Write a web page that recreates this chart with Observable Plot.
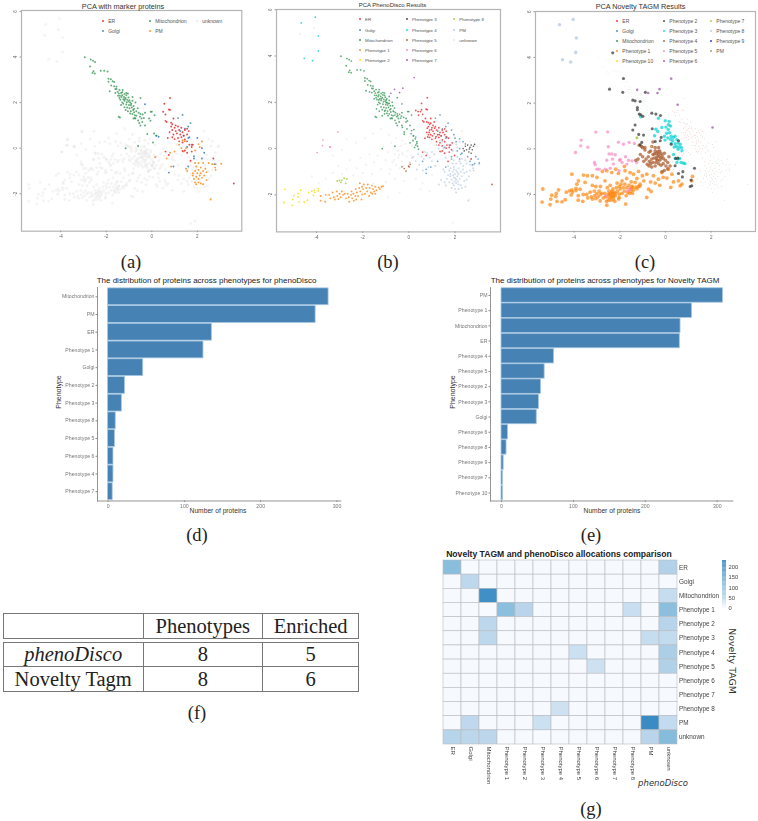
<!DOCTYPE html>
<html><head><meta charset="utf-8">
<script src="https://cdn.jsdelivr.net/npm/d3@7"></script>
<script src="https://cdn.jsdelivr.net/npm/@observablehq/plot@0.6"></script>
<style>
html,body{margin:0;background:#fff}
#page{position:relative;width:758px;height:821px;overflow:hidden;font-family:"Liberation Sans",sans-serif}
#page>svg,#page>div{position:absolute}
#page svg{background:transparent;overflow:visible}
.soft{filter:blur(.3px)}
table{position:absolute;border-collapse:collapse;font:20.5px "Liberation Serif",serif;color:#222;table-layout:fixed}
td{border:1px solid #777;text-align:center;padding:0;overflow:hidden;white-space:nowrap}
</style></head><body><div id="page"></div>
<script>
// ---------- scatter values ([PC1, PC2])
const mitoMarkers=[[-2.94,3.99],[-2.68,3.89],[-2.58,3.84],[-2.49,3.78],[-2.71,3.58],[-2.56,3.38],[-2.5,3.28],[-2.6,3.3],[-2.24,3.4],[-2.09,3.4],[-1.94,3.36],[-1.9,2.92],[-1.9,3.05],[-1.8,3.02],[-1.72,2.94],[-1.65,2.9],[-1.78,2.75],[-1.65,2.72],[-1.55,2.7],[-1.6,2.6],[-1.42,2.55],[-1.35,2.42],[-1.45,2.4],[-1.4,2.3],[-1.3,2.45],[-1.2,2.38],[-1.33,2.25],[-1.22,2.25],[-1.15,2.2],[-1.08,2.12],[-1.2,2.08],[-1.1,2.02],[-1.02,2.05],[-0.95,2.0],[-1.12,1.92],[-1.0,1.9],[-0.92,1.88],[-1.25,1.95],[-1.2,1.8],[-1.08,1.78],[-0.98,1.75],[-0.88,1.78],[-0.82,1.68],[-0.92,1.62],[-0.78,1.58],[-0.75,1.45],[-0.85,1.5],[-0.68,1.42],[-0.52,1.38],[-0.5,1.5],[-0.4,1.48],[-0.3,1.55],[-0.35,1.32],[-0.45,1.3],[-0.12,1.3],[-0.05,1.6],[0.0,1.6],[0.12,1.45],[-0.06,1.2],[-0.42,1.15],[-0.55,1.1],[-0.5,1.0],[-1.45,1.38],[-1.4,1.35],[-0.85,2.25],[-0.5,2.2],[-1.85,2.5],[-0.2,0.62],[0.1,0.65],[0.2,0.55],[0.05,0.25],[-1.15,0.0],[-0.6,0.1],[-0.8,1.3],[-0.75,1.32],[-0.3,1.0]];
const mitoDense=[[-1.55,2.6],[-1.5,2.48],[-1.6,2.42],[-1.28,2.55],[-1.12,2.42],[-1.05,2.4],[-1.38,2.12],[-1.3,2.0],[-1.42,2.2],[-1.18,2.15],[-0.85,2.08],[-0.9,1.95],[-0.8,1.85],[-0.72,2.0],[-1.35,1.9],[-1.15,1.68],[-1.05,1.62],[-0.95,1.52],[-0.78,1.72],[-0.68,1.62],[-0.62,1.75],[-0.58,1.55],[-0.72,1.3],[-0.6,1.22],[-1.12,2.32],[-1.02,2.22],[-0.98,2.1],[-1.3,2.32],[-1.25,2.15],[-1.48,2.3]];
const mitoExtra=[[-1.7,2.45],[-1.5,2.15],[-1.3,2.1],[-1.05,2.3],[-0.95,2.15],[-0.85,1.95],[-0.7,1.85],[-0.65,1.6],[-1.4,1.72],[-1.28,1.62],[-1.05,1.5],[-1.15,1.42],[-0.6,1.45],[-0.48,1.42],[-0.32,1.4],[-0.22,1.35],[-0.12,1.15],[-0.28,0.92],[-0.08,0.85],[-0.2,0.72],[0.05,1.0],[0.12,0.78],[0.22,0.82],[0.28,0.42],[0.35,0.3],[0.18,0.35],[0.3,0.15],[0.38,0.1],[0.25,0.05],[0.42,-0.02],[0.35,0.22],[-0.98,1.98],[-1.02,1.65],[-0.9,1.42]];
const erMarkers=[[0.8,2.2],[0.55,1.95],[0.75,1.7],[0.8,1.68],[0.5,1.6],[0.6,1.48],[0.95,1.3],[0.6,1.2],[0.65,1.15],[0.85,1.12],[1.05,1.0],[0.9,1.05],[0.85,0.95],[1.0,0.9],[1.15,0.95],[1.3,0.9],[1.45,0.8],[0.9,0.8],[1.05,0.75],[1.2,0.8],[1.35,0.7],[1.55,0.85],[1.62,0.75],[0.78,0.7],[0.95,0.6],[1.1,0.65],[1.25,0.6],[1.4,0.55],[1.55,0.6],[0.7,0.45],[0.9,0.48],[1.0,0.4],[1.15,0.45],[1.3,0.48],[1.45,0.38],[1.2,0.3],[1.35,0.25],[1.55,0.3],[1.65,0.15],[1.8,0.15],[1.75,0.05],[1.45,-0.1],[0.6,-0.15],[1.55,-0.2],[1.35,-0.12],[1.75,-0.15],[1.7,-0.55],[2.7,-0.45],[3.6,-1.55],[0.75,-0.3]];
const erExtra=[[0.3,1.65],[0.4,1.6],[0.42,1.45],[0.55,1.68],[0.72,1.3],[0.78,1.15],[0.95,1.1],[1.1,1.15],[0.8,0.88],[0.88,0.7],[0.98,0.82],[1.12,0.88],[0.85,0.6],[1.02,0.55],[1.18,0.52],[0.82,0.5],[1.32,0.6],[1.48,0.7],[1.62,0.52],[1.72,0.45],[1.3,0.15],[1.45,0.12],[1.62,0.02],[1.88,0.25],[1.85,-0.05],[1.98,-0.3]];
const golgiMarkers=[[-0.3,1.93],[1.15,1.32],[1.35,1.46],[1.7,1.1],[1.6,0.95],[1.45,0.85],[1.4,0.55],[1.6,0.45],[1.65,0.48],[1.25,0.75],[2.0,0.45],[2.2,0.0],[1.55,0.05],[1.75,0.15],[1.85,-0.45],[2.75,-0.7],[2.3,-0.2],[2.2,-0.45],[0.95,-0.8],[0.75,-1.07],[0.2,0.55],[0.3,0.5],[1.6,-0.8],[1.85,-0.35]];
const golgiExtra=[[1.85,0.8],[1.95,0.6],[2.05,0.3],[2.2,0.42],[2.35,0.3],[2.45,0.2],[2.1,-0.1],[2.25,-0.25],[2.55,-0.35],[2.65,-0.55],[2.9,-0.35],[3.0,-0.45],[3.05,-0.62],[2.85,-0.65],[0.75,-0.9],[1.25,-0.55],[0.6,-0.55]];
const pmMarkers=[[2.2,0.3],[2.05,0.18],[2.1,0.05],[1.9,-0.1],[1.35,0.35],[1.45,0.3],[1.2,0.15],[1.3,0.0],[1.5,-0.0],[1.0,-0.15],[0.8,-0.2],[0.15,-0.4],[0.65,-0.45],[1.4,-0.15],[0.85,-0.8],[1.5,-0.9],[1.55,-1.0],[1.9,-0.65],[2.05,-0.65],[2.25,-0.65],[2.5,-0.65],[2.65,-0.7],[2.8,-0.7],[3.05,-0.68],[1.95,-0.8],[2.15,-0.85],[2.35,-0.9],[2.78,-0.85],[2.8,-0.95],[1.9,-1.0],[2.05,-0.95],[2.25,-1.0],[1.8,-1.1],[2.0,-1.1],[2.15,-1.1],[2.4,-1.05],[1.8,-1.2],[1.95,-1.25],[2.1,-1.2],[1.85,-1.35],[2.05,-1.35],[2.2,-1.3],[2.3,-1.2],[1.9,-1.5],[2.05,-1.5],[2.15,-1.55],[2.25,-1.58],[2.4,-1.4],[1.95,-1.58],[2.58,-2.25]];
const pmExtra=[[0.05,-0.6],[0.2,-0.35],[0.3,-0.55],[0.4,-0.25],[0.45,-0.7],[0.55,-0.35],[0.7,-0.15],[0.9,-0.4],[1.0,-0.55],[1.1,-0.25],[1.15,-0.75],[0.35,-0.9],[0.6,-0.95],[1.6,-0.4],[1.7,-0.75],[1.75,-0.95],[1.65,-1.3],[1.55,-1.45],[1.4,-1.35],[1.3,-1.55],[1.6,-1.6],[1.75,-1.45],[1.85,-1.7],[2.0,-1.75],[2.15,-1.75],[2.05,-1.9],[2.3,-1.7],[2.45,-1.65],[2.5,-1.0],[2.6,-1.2],[2.3,-0.45],[2.45,-0.5],[2.2,-0.55],[1.95,-0.5],[2.1,-0.35],[2.35,-0.75],[1.95,-0.9],[2.1,-1.02],[1.92,-1.15],[2.02,-1.28],[2.12,-1.42],[1.98,-1.42],[1.8,-0.85],[1.7,-1.15],[2.65,-0.95],[2.5,-1.35]];
const phen1Disco=[[-3.82,-2.05],[-3.82,-2.25],[-3.62,-2.3],[-3.6,-2.0],[-3.45,-2.0],[-3.4,-2.15],[-3.3,-1.9],[-3.25,-2.1],[-3.2,-2.2],[-3.12,-1.85],[-3.1,-2.05],[-3.05,-2.18],[-3.0,-1.95],[-2.95,-2.1],[-2.9,-1.85],[-2.85,-2.0],[-2.78,-1.95],[-2.72,-2.15],[-2.6,-2.1],[-2.58,-2.3],[-2.5,-2.0],[-2.48,-1.85],[-2.45,-2.15],[-2.4,-1.95],[-2.38,-2.25],[-2.32,-2.05],[-2.3,-1.75],[-2.28,-2.2],[-2.25,-1.9],[-2.2,-2.05],[-2.15,-1.7],[-2.12,-1.5],[-2.1,-1.85],[-2.05,-2.2],[-2.02,-1.98],[-1.98,-1.75],[-1.95,-1.55],[-1.9,-1.95],[-1.85,-1.7],[-1.8,-1.85],[-1.78,-1.55],[-1.72,-2.05],[-1.7,-1.7],[-1.65,-1.9],[-1.6,-1.6],[-1.55,-1.75],[-1.5,-1.85],[-1.45,-1.65],[-1.4,-1.8],[-1.3,-1.68],[-1.25,-1.75],[-1.18,-1.65],[-1.12,-1.63],[-2.65,-1.95],[-2.02,-1.65],[-1.58,-1.95],[-1.45,-1.95]];
const phen2Disco=[[-5.37,-1.76],[-5.4,-2.33],[-5.05,-2.45],[-4.98,-2.03],[-5.02,-2.2],[-4.78,-1.95],[-4.68,-1.8],[-4.75,-2.3],[-4.53,-2.32],[-4.39,-2.23],[-4.34,-1.9],[-4.2,-1.84],[-4.1,-1.8],[-4.07,-1.89],[-3.92,-1.73],[-3.92,-1.83],[-4.13,-2.02],[-4.8,-2.09]];
const phen3Disco=[[2.35,0.0],[2.45,0.1],[2.5,-0.05],[2.6,-0.15],[2.65,0.05],[2.7,0.15],[2.75,-0.05],[2.8,0.1],[2.55,0.15],[2.4,-0.1],[2.7,-0.2],[2.85,0.18],[2.62,-0.02]];
const phen4Disco=[[-4.05,5.68],[-4.66,5.43],[-3.92,4.86],[-3.92,4.22],[-4.53,3.9],[-4.17,3.8]];
const phen5Disco=[[-0.3,-0.79],[-0.2,-0.86],[-0.12,-0.97],[-0.01,-0.76],[0.06,-0.68],[0.01,-0.79]];
const phen6Disco=[[-3.07,0.72],[-3.72,0.37],[-3.74,0.13],[-3.42,0.07],[-3.4,0.06],[-3.97,-0.17]];
const phen7Disco=[[0.23,3.07],[-0.26,2.61],[-0.62,2.56],[-0.4,2.42],[-0.78,2.39]];
const phen8Disco=[[-3.1,-1.4],[-3.0,-1.38],[-2.94,-1.46],[-2.8,-1.28],[-2.68,-1.31],[-2.73,-1.5],[-2.9,-1.37]];
const unknownDisco=[[-4.2,-1.2],[-3.9,-1.5],[-3.6,-1.3],[-3.3,-1.05],[-3.05,-0.75],[-2.9,-1.1],[-2.7,-0.9],[-2.55,-0.5],[-2.4,-1.15],[-2.25,-0.85],[-2.1,-0.4],[-2.0,-1.05],[-1.85,-0.7],[-1.7,-0.25],[-1.6,-1.1],[-1.5,-0.6],[-1.35,-0.3],[-1.2,-0.9],[-1.1,0.1],[-1.0,-0.5],[-0.9,-0.15],[-0.85,-1.1],[-0.75,0.25],[-0.7,-0.6],[-0.6,-0.25],[-0.5,-0.1],[-0.45,-0.4],[-0.35,0.1],[-0.3,-0.55],[-0.25,-0.25],[-0.15,0.2],[-0.1,-0.35],[-0.05,-0.1],[0.1,-0.3],[0.15,0.15],[-2.7,0.4],[-2.3,0.25],[-1.9,0.45],[-1.55,0.65],[-1.2,0.85],[-0.85,0.6],[-0.55,0.45],[-0.3,0.35],[-3.3,-0.3],[-2.9,-0.05],[-1.55,-1.5],[-1.0,-1.45],[-0.6,-1.3],[-0.2,-1.4],[0.3,-1.3],[0.6,-1.5],[1.0,-1.15],[-0.9,-2.1],[-0.4,-1.9],[0.5,-1.75],[0.9,-1.85],[2.6,-2.2],[1.3,0.75],[1.1,0.15],[2.3,0.75],[2.65,0.3],[2.95,0.1],[1.9,-3.2],[-4.7,4.95],[-4.1,5.2],[-0.8,-0.9],[-0.55,-0.7],[-0.4,-0.85],[-0.65,-0.5],[-0.25,-0.75],[-0.42,-0.28],[-0.3,-0.18]];
const unknownMore=[[2.6,0.1],[2.8,-0.2],[2.4,-0.3],[2.9,0.05],[2.7,-0.5],[2.2,0.3],[2.5,0.4],[1.7,-0.6],[1.3,-0.3],[0.9,-0.5],[0.5,0.0],[0.4,-0.8],[-0.1,0.4],[0.2,-1.6],[1.4,-1.9],[-3.1,0.2],[-2.5,-0.2],[-1.8,-0.5],[-1.5,0.1],[-1.0,0.4],[-0.7,0.0],[-0.2,-0.05],[-4.9,-1.5],[-5.4,-1.6],[-4.5,-1.6],[-3.7,-1.05],[1.7,-3.3]];
// Novelty TAGM groups (on top of the shared phenoDisco points)
const phen1Extra=[[-4.1,-1.11],[-3.81,-1.4],[-3.59,-1.15],[-3.42,-1.18],[-3.2,-1.18],[-3.88,-1.55],[-3.74,-1.77],[-3.52,-1.47],[-3.0,-1.25],[-2.76,-0.99],[-2.57,-0.96],[-2.35,-1.04],[-2.18,-0.89],[-2.06,-1.08],[-1.8,-0.77],[-1.77,-0.96],[-1.55,-1.04],[-1.4,-1.11],[-1.18,-0.99],[-1.01,-1.18],[-0.82,-1.11],[-0.53,-1.18],[-0.31,-1.33],[-0.16,-1.04],[0.13,-0.89],[0.28,-1.11],[0.57,-1.4],[0.64,-1.62],[0.72,-1.55],[0.06,-1.28],[0.23,-1.69],[1.18,-1.21],[1.15,-1.4],[-0.82,-2.13],[-0.63,-1.87],[-0.74,-1.77],[-1.11,-1.55],[-1.47,-1.69],[-1.33,-1.47],[-1.74,-2.42],[-2.03,-2.13],[-2.57,-2.47],[-2.86,-2.28],[-2.55,-1.7],[-2.42,-1.6],[-2.35,-1.85],[-2.45,-2.0],[-2.3,-1.95],[-2.38,-2.1],[-2.28,-2.1],[-2.18,-1.95],[-2.5,-2.25],[-2.22,-2.3],[-1.9,-1.4],[-1.7,-1.3],[-1.5,-1.45],[-1.25,-1.3],[-0.95,-1.4],[-0.65,-1.45],[-0.45,-1.5],[-0.25,-1.6],[-0.1,-1.25],[0.35,-1.45],[-2.65,-1.4],[-3.2,-1.6],[-3.05,-1.65],[-2.85,-1.65]];
const phen2Novelty=[[-2.31,4.2],[-1.84,3.08],[-2.45,2.61],[-1.87,2.47],[-0.88,2.47],[-1.43,2.13],[-1.33,2.1],[-1.11,2.07],[-1.23,1.81],[-1.23,1.71],[-1.15,1.52],[-0.99,1.42],[-1.08,1.49],[-0.6,1.56],[-0.42,1.52],[-0.22,1.46],[-1.33,1.04],[-1.43,0.82],[-1.17,0.63],[-0.96,0.6],[-0.58,0.88],[-0.45,0.32],[-0.23,0.35],[-1.04,0.28],[-1.11,0.18],[-0.19,0.5],[0.25,0.2],[0.57,0.35],[0.45,-0.42],[0.42,-0.74],[0.54,-0.41],[0.76,-1.0],[0.57,-1.08],[0.74,-1.23],[1.12,-1.37],[1.15,-1.62],[1.08,-1.65],[1.27,-0.85]];
const phen3Novelty=[[-1.09,1.4],[-0.31,1.34],[-0.01,1.23],[0.16,1.2],[0.13,1.05],[0.02,0.95],[-0.16,0.93],[-0.42,0.86],[-0.34,0.76],[-0.48,0.57],[0.22,1.0],[0.12,0.85],[0.18,0.7],[0.05,0.68],[-0.05,0.55],[0.25,0.55],[0.1,0.48],[0.22,0.42],[0.35,0.5],[0.42,0.55],[0.5,0.4],[0.32,0.35],[0.25,0.25],[0.42,0.22],[0.55,0.25],[0.65,0.2],[0.48,0.1],[0.6,0.08],[0.7,0.05],[0.55,-0.02],[0.38,0.08],[0.72,-0.08],[0.42,-0.42],[0.55,-0.45],[0.62,-0.42],[0.68,-0.6],[0.78,-0.62],[0.85,-0.65],[0.5,-0.6],[0.35,-0.25],[-0.02,0.38]];
const phen4Novelty=[[-1.15,0.15],[-1.05,0.1],[-1.0,0.05],[-0.9,0.05],[-0.9,-0.05],[-1.1,-0.25],[-1.0,-0.35],[-1.2,-0.45],[-1.3,-0.5],[-0.85,-0.45],[-0.75,-0.35],[-0.72,-0.15],[-0.6,0.1],[-0.65,-0.1],[-0.55,-0.25],[-0.45,0.05],[-0.45,-0.1],[-0.38,-0.2],[-0.3,0.05],[-0.25,-0.1],[-0.2,-0.2],[-0.38,-0.35],[-0.28,-0.35],[-0.15,-0.3],[-0.05,-0.2],[-0.1,-0.42],[0,-0.5],[0.1,-0.6],[-0.25,-0.5],[-0.35,-0.5],[-0.5,-0.4],[-0.6,-0.45],[-0.7,-0.55],[-0.65,-0.65],[-0.55,-0.6],[-0.42,-0.6],[-0.3,-0.65],[-0.2,-0.72],[-0.1,-0.65],[0.02,-0.75],[0.1,-0.88],[-0.05,-0.95],[-0.15,-1.0],[-0.45,-0.75],[-0.6,-0.8],[-0.72,-0.75],[-0.8,-0.68],[-0.95,-0.55],[0.15,-0.35],[0.2,-0.75],[-0.55,0.3],[-0.3,-0.25],[-0.4,-0.45],[-0.2,-0.4],[-0.48,-0.22],[-0.33,-0.12]];
const phen5Novelty=[[-3.69,0.38],[-3.71,0.13],[-3.4,0.07],[-3.05,0.73],[-3.94,-0.16],[-2.53,0.74],[-2.06,0.29],[-1.84,0.2],[-2.5,0.09],[-2.47,-0.23],[-2.35,-0.23],[-2.2,-0.26],[-1.98,-0.47],[-2.01,-0.5],[-3.11,-0.6],[-3.08,-0.7],[-3.0,-0.89],[-2.9,-0.89],[-2.64,-0.89],[-2.28,-0.67],[-2.57,-0.5],[-2.32,-0.45],[-1.59,0.28],[-1.36,0.23],[-1.47,-0.53],[-1.62,-0.5],[-1.69,-0.67],[-1.26,-0.6],[-2.03,-0.96],[-1.55,-1.77],[-1.65,-1.84],[-2.64,-2.06],[-1.75,-0.35],[-1.9,-0.6],[-2.42,-0.85]];
const phen6Novelty=[[0.25,3.07],[-1.24,2.58],[-0.76,2.44],[-0.35,2.44],[-0.26,2.61],[0.53,1.93],[2.06,0.93]];
const phen7Novelty=[[-1.25,0.48]];
const phen8Novelty=[[-4.04,5.66],[-4.64,5.43],[-3.9,4.85],[-3.93,4.22],[-4.51,3.9],[-4.15,3.8]];
const phen10Novelty=[[-0.62,0.1]];
// ---------- bar values
const discoNames=["Mitochondrion","PM","ER","Phenotype 1","Golgi","Phenotype 2","Phenotype 3","Phenotype 8","Phenotype 5","Phenotype 6","Phenotype 4","Phenotype 7"];
const discoCounts=[289,272,136,125,46,22,18,10,9,7,7,6];
const tagmNames=["PM","Phenotype 1","Mitochondrion","ER","Phenotype 4","Phenotype 5","Phenotype 2","Phenotype 3","Golgi","Phenotype 6","Phenotype 8","Phenotype 9","Phenotype 7","Phenotype 10"];
const tagmCounts=[308,265,249,248,73,60,55,52,49,9,7,3,2,2];
// ---------- heatmap values
const heatCols=["ER","Golgi","Mitochondrion","Phenotype 1","Phenotype 2","Phenotype 3","Phenotype 4","Phenotype 5","Phenotype 6","Phenotype 7","Phenotype 8","PM","unknown"];
const heatRows=["ER","Golgi","Mitochondrion","Phenotype 1","Phenotype 2","Phenotype 3","Phenotype 4","Phenotype 5","Phenotype 6","Phenotype 7","Phenotype 8","PM","unknown"];
const heatValues=[
[125,0,1,1,1,1,1,1,1,1,1,1,65],
[1,50,1,1,1,1,1,1,1,1,1,1,1],
[1,1,225,1,1,1,1,1,1,1,1,1,42],
[1,1,0,120,55,1,1,1,1,1,40,1,120],
[1,1,50,1,1,1,1,1,1,1,1,1,58],
[1,1,50,1,1,1,1,1,1,1,1,42,45],
[1,1,1,1,1,1,1,38,1,1,1,1,75],
[1,1,1,1,1,1,1,1,36,1,1,1,68],
[1,1,1,1,1,1,1,1,1,1,1,1,1],
[1,1,1,1,1,1,1,1,1,1,1,1,1],
[1,1,1,1,1,1,36,1,1,1,1,1,1],
[1,48,1,1,1,38,1,1,1,1,1,233,45],
[60,52,52,1,1,0,1,1,1,1,1,55,130]];
const heatTicks=[0,50,100,150,200];
// ---------- table and colours
const tableHead=["","Phenotypes","Enriched"];
const tableBody=[["phenoDisco","8","5"],["Novelty Tagm","8","6"]];
const colours={ER:"#e41a1c",Golgi:"#377eb8",Mitochondrion:"#238b45","Phenotype 1":"#ff7f00","Phenotype 2":"#ffd700","Phenotype 3":"#333333","Phenotype 4":"#00ced1","Phenotype 5":"#a65628","Phenotype 6":"#f781bf","Phenotype 7":"#984ea3","Phenotype 8":"#9acd32",PM:"#b0c4de",unknown:"#e4e4e4"};
const coloursTagm={ER:"#e41a1c",Golgi:"#377eb8",Mitochondrion:"#238b45","Phenotype 1":"#ff7f00","Phenotype 10":"#ffd700","Phenotype 2":"#333333","Phenotype 3":"#00ced1","Phenotype 4":"#a65628","Phenotype 5":"#f781bf","Phenotype 6":"#984ea3","Phenotype 7":"#9acd32","Phenotype 8":"#b0c4de","Phenotype 9":"#2222aa",PM:"#8b8b73"};

const page=document.getElementById("page");
function put(el,left,top,cls){el.style.left=left+"px";el.style.top=top+"px";if(cls)el.classList.add(cls);page.appendChild(el);return el}
function txt(s,x,y,o={}){const d=document.createElement("div");d.textContent=s;
 const ax={start:"0",middle:"-50%",end:"-100%"}[o.anchor||"middle"];
 d.style.cssText=`white-space:nowrap;line-height:1;font:${o.style||""} ${o.weight||""} ${o.size||7}px ${o.font||'"Liberation Sans"'};color:${o.color||"#222"};transform:translate(${ax},-50%) rotate(${o.rotate||0}deg)`;
 return put(d,x,y)}
function scatter(f,xd,yd,layers,legend,leg){
 const ml=20,mt=8,mr=2,mb=18;
 const marks=[Plot.frame({stroke:"#b4b4b4",strokeWidth:1.2}),
  Plot.axisX({ticks:[-4,-2,0,2],tickFormat:d=>String(d),tickSize:1.5,tickPadding:2.5,fontSize:4.6,color:"#666",stroke:"#999"}),
  Plot.axisY({ticks:[-2,0,2,4,6],tickFormat:d=>String(d),tickSize:1.5,tickPadding:3,tickRotate:-90,fontSize:4.6,color:"#666",stroke:"#999"})];
 for(const l of layers)marks.push(Plot.dot(l.pts,{x:d=>d[0],y:d=>d[1],r:l.r,fill:l.c,fillOpacity:l.o,stroke:"none"}));
 const svg=Plot.plot({width:f[1]-f[0]+ml+mr,height:f[3]-f[2]+mt+mb,marginLeft:ml,marginRight:mr,marginTop:mt,marginBottom:mb,
  x:{domain:xd,label:null},y:{domain:yd,label:null},marks,style:{fontFamily:'"Liberation Sans"',background:"transparent"}});
 put(svg,f[0]-ml,f[2]-mt,"soft");
 legend.forEach((col,i)=>col.forEach((name,j)=>{
  const dot=document.createElement("div");
  dot.style.cssText=`width:2.2px;height:2.2px;border-radius:50%;background:${leg.colours[name]};opacity:.85`;
  put(dot,leg.x[i]-1.1,leg.y[j]-1.1);
  txt(name,leg.x[i]+leg.dx,leg.y[j],{anchor:"start",size:leg.size,color:"#555"});
 }));
}
const mitoA=mitoMarkers.concat(mitoDense);
const pm2=pmMarkers.concat(pmExtra),er2=erMarkers.concat(erExtra),mito2=mitoA.concat(mitoExtra),golgi2=golgiMarkers.concat(golgiExtra);
// (a)
const greyA=[].concat(phen1Disco,phen2Disco,phen4Disco,phen6Disco,phen8Disco,phen5Disco,unknownDisco,unknownMore,pmExtra,phen1Extra,phen5Novelty,phen4Novelty);
scatter([20.7,241,10,230.7],[-5.72,3.95],[-3.64,6.04],[
 {pts:greyA,c:"#dcdcdc",r:1.45,o:.3},
 {pts:golgiMarkers,c:colours.Golgi,r:.95,o:.85},{pts:mitoA,c:colours.Mitochondrion,r:1,o:.7},{pts:pmMarkers,c:colours["Phenotype 1"],r:.95,o:.8},{pts:erMarkers,c:colours.ER,r:.95,o:.8}],
 [["ER","Golgi"],["Mitochondrion","PM"],["unknown"]],
 {colours:{ER:colours.ER,Golgi:colours.Golgi,Mitochondrion:colours.Mitochondrion,PM:colours["Phenotype 1"],unknown:"#e4e4e4"},x:[102.7,149.7,196.7],y:[20.7,30.7],dx:5.5,size:5});
// (b)
scatter([276.3,500.3,9.3,231.7],[-5.73,3.97],[-3.6,6.01],[
 {pts:unknownDisco,c:"#dcdcdc",r:1.1,o:.4},{pts:pm2,c:colours.PM,r:1,o:.6},{pts:golgi2,c:colours.Golgi,r:.85,o:.7},{pts:mito2,c:colours.Mitochondrion,r:.9,o:.7},{pts:er2,c:colours.ER,r:.9,o:.75},
 {pts:phen1Disco,c:colours["Phenotype 1"],r:.95,o:.75},{pts:phen2Disco,c:colours["Phenotype 2"],r:.9,o:.8},{pts:phen3Disco,c:colours["Phenotype 3"],r:.8,o:.8},{pts:phen4Disco,c:colours["Phenotype 4"],r:.85,o:.8},{pts:phen5Disco,c:colours["Phenotype 5"],r:.85,o:.8},{pts:phen6Disco,c:colours["Phenotype 6"],r:.85,o:.8},{pts:phen7Disco,c:colours["Phenotype 7"],r:.85,o:.8},{pts:phen8Disco,c:colours["Phenotype 8"],r:.9,o:.8}],
 [["ER","Golgi","Mitochondrion","Phenotype 1","Phenotype 2"],["Phenotype 3","Phenotype 4","Phenotype 5","Phenotype 6","Phenotype 7"],["Phenotype 8","PM","unknown"]],
 {colours,x:[359.7,406.7,454],y:[19.3,29.7,39.7,50,60.3],dx:5.3,size:4.4});
// (c)
scatter([535.3,755.3,10.7,230.7],[-5.69,3.94],[-3.62,6.01],[
 {pts:er2,c:coloursTagm.ER,r:.35,o:.55},{pts:pm2,c:coloursTagm.PM,r:.4,o:.6},{pts:mitoA,c:coloursTagm.Mitochondrion,r:.3,o:.35},
 {pts:phen1Disco.concat(phen2Disco,phen1Extra),c:coloursTagm["Phenotype 1"],r:1.9,o:.65},
 {pts:phen5Novelty,c:coloursTagm["Phenotype 5"],r:1.7,o:.65},{pts:phen4Novelty,c:coloursTagm["Phenotype 4"],r:1.8,o:.7},{pts:phen3Novelty,c:coloursTagm["Phenotype 3"],r:1.7,o:.7},{pts:phen2Novelty,c:coloursTagm["Phenotype 2"],r:1.55,o:.7},
 {pts:phen6Novelty,c:coloursTagm["Phenotype 6"],r:1.3,o:.7},{pts:phen7Novelty,c:coloursTagm["Phenotype 7"],r:1.5,o:.8},{pts:phen8Novelty,c:coloursTagm["Phenotype 8"],r:1.8,o:.7},{pts:phen10Novelty,c:coloursTagm["Phenotype 10"],r:.8,o:.7}],
 [["ER","Golgi","Mitochondrion","Phenotype 1","Phenotype 10"],["Phenotype 2","Phenotype 3","Phenotype 4","Phenotype 5","Phenotype 6"],["Phenotype 7","Phenotype 8","Phenotype 9","PM"]],
 {colours:coloursTagm,x:[617,664,711],y:[20.7,30.7,41,51,61.3],dx:5.3,size:5});
txt("PCA with marker proteins",123,6,{size:7.3,color:"#333"});
txt("PCA PhenoDisco Results",392.5,4.7,{size:6,color:"#333"});
txt("PCA Novelty TAGM Results",640.5,5.5,{size:7.3,color:"#333"});
// bars
function bars(names,counts,left,right,xd,top,bottom,fs){
 const data=names.map((n,i)=>({n,v:counts[i]}));
 const ml=55,mb=12,mt=2;
 const svg=Plot.plot({width:right-left+ml+6,height:bottom-top+mt+mb,marginLeft:ml,marginRight:6,marginTop:mt,marginBottom:mb,
  x:{domain:xd,label:null},y:{domain:names,label:null,padding:.05,round:false},
  style:{fontFamily:'"Liberation Sans"',background:"transparent"},
  marks:[Plot.barX(data,{x:"v",y:"n",fill:"#4682b4",stroke:"#a6c6e2",strokeWidth:.8}),
   Plot.frame({anchor:"left",stroke:"#888",strokeWidth:.9}),Plot.frame({anchor:"bottom",stroke:"#888",strokeWidth:.9}),
   Plot.axisX({ticks:[0,100,200,300],tickSize:1.5,tickPadding:1.5,fontSize:fs,color:"#777",stroke:"#888"}),
   Plot.axisY({tickSize:1.5,tickPadding:1.5,fontSize:fs,color:"#777",stroke:"#888"})]});
 put(svg,left-ml,top-mt,"soft");
}
bars(discoNames,discoCounts,96.7,340,[-13.9,305],286.5,500,5.2);
bars(tagmNames,tagmCounts,490.3,732.7,[-15.3,321.8],286.5,500,5.2);
txt("The distribution of proteins across phenotypes for phenoDisco",206.5,280,{size:8,color:"#222"});
txt("The distribution of proteins across phenotypes for Novelty TAGM",605,280,{size:8,color:"#222"});
txt("Number of proteins",218,510,{size:6.7,color:"#333"});
txt("Number of proteins",612,510,{size:6.7,color:"#333"});
txt("Phenotype",57.5,392,{size:7,rotate:-90,color:"#333"});
txt("Phenotype",451.5,392,{size:7,rotate:-90,color:"#333"});
// heatmap
const heatColor={type:"linear",domain:[0,50,130,233],range:["#f7fbff","#bdd7ec","#85bcdc","#3a8bc4"]};
const heatData=heatRows.flatMap((r,i)=>heatCols.map((c,j)=>({r,c,v:heatValues[i][j]})));
put(Plot.plot({width:234+65,height:184+50,marginLeft:0,marginTop:0,marginRight:65,marginBottom:50,
 x:{domain:heatCols,padding:0,label:null,round:false},y:{domain:heatRows,padding:0,label:null,round:false},color:heatColor,
 style:{fontFamily:'"Liberation Sans"',background:"transparent"},
 marks:[Plot.cell(heatData,{x:"c",y:"r",fill:"v",stroke:"#b9bcc0",strokeWidth:.6,inset:0}),
  Plot.axisX({anchor:"bottom",tickSize:0,tickPadding:2,tickRotate:90,fontSize:6,color:"#444"}),
  Plot.axisY({anchor:"right",tickSize:0,tickPadding:1.5,fontSize:6.4,color:"#444"})]}),442.7,560,"soft");
put(Plot.plot({width:30,height:50,marginLeft:0,marginRight:26,marginTop:0,marginBottom:2,
 x:{domain:[0,1],axis:null},y:{domain:[0,233],label:null},color:heatColor,
 style:{fontFamily:'"Liberation Sans"',background:"transparent"},
 marks:[Plot.rect(d3.range(0,233,4),{x1:0,x2:1,y1:d=>d,y2:d=>Math.min(d+4.5,233),fill:d=>d}),
  Plot.axisY({anchor:"right",ticks:heatTicks,tickSize:0,tickPadding:2,fontSize:5.8,color:"#444"})]}),721.7,560,"soft");
txt("Novelty TAGM and phenoDisco allocations comparison",559,554,{size:8.6,weight:"bold",color:"#222"});
txt("Novelty TAGM",732,661,{size:9.4,rotate:90,color:"#333",font:'"DejaVu Sans"'});
txt("phenoDisco",663,782.5,{size:8.5,style:"italic",color:"#333",font:'"DejaVu Sans"'});
// table
function table(rows,top,hs){const t=document.createElement("table");t.style.left="2.7px";t.style.top=top+"px";t.style.width="352.6px";
 rows.forEach((row,i)=>{const tr=t.insertRow();tr.style.height=hs+"px";row.forEach((s,j)=>{const td=tr.insertCell();td.textContent=s;td.style.width=[139,118.3,95.3][j]+"px";td.style.lineHeight="20px";if(s==="phenoDisco")td.style.fontStyle="italic"})});page.appendChild(t)}
table([tableHead],613.3,25);
table(tableBody,641.7,24.6);
// sub-captions
const capFont={size:18.5,font:'"Liberation Serif"',color:"#222"};
[["(a)",131,262],["(b)",388,262],["(c)",645,262],["(d)",197,535],["(e)",591,535],["(f)",197,713],["(g)",591,809]].forEach(([s,x,y])=>txt(s,x,y,capFont));
</script></body></html>
